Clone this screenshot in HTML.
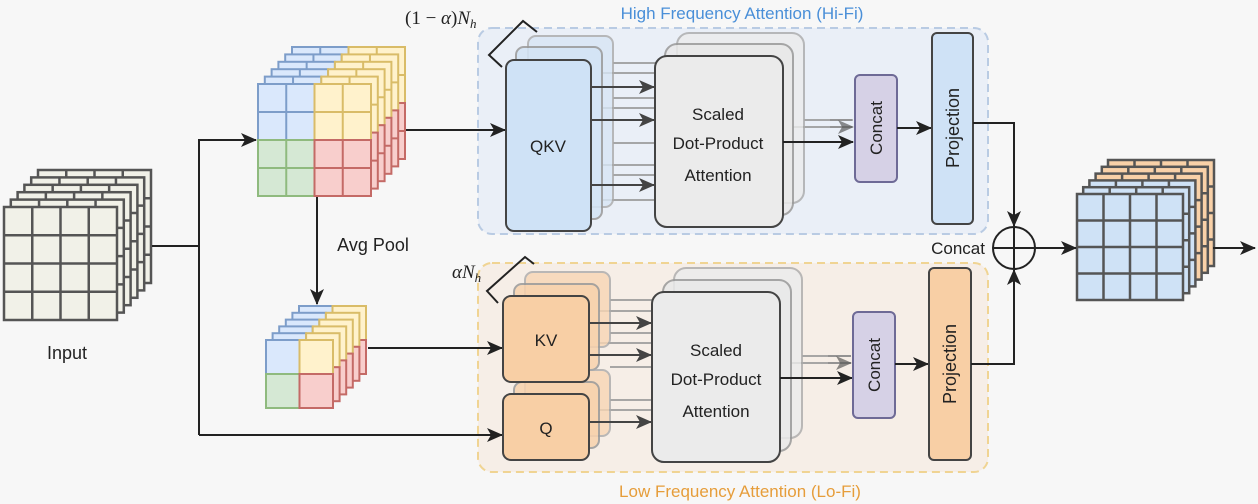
<!DOCTYPE html>
<html><head><meta charset="utf-8"><style>
html,body{margin:0;padding:0;background:#f7f7f7;}
svg{display:block;font-family:"Liberation Sans",sans-serif;}
</style></head><body>
<svg width="1258" height="504" viewBox="0 0 1258 504" xmlns="http://www.w3.org/2000/svg">
<defs>
<marker id="ah" viewBox="0 0 16 14" refX="15" refY="7" markerWidth="16" markerHeight="14" orient="auto" markerUnits="userSpaceOnUse">
<path d="M0,0 L16,7 L0,14 L4,7 Z" fill="#222"/></marker>
<marker id="ahg" viewBox="0 0 16 14" refX="15" refY="7" markerWidth="16" markerHeight="14" orient="auto" markerUnits="userSpaceOnUse">
<path d="M0,0 L16,7 L0,14 L4,7 Z" fill="#444"/></marker>
<g id="g4"><rect x="0" y="0" width="113" height="113"/><path d="M28.25 0V113M56.5 0V113M84.75 0V113M0 28.25H113M0 56.5H113M0 84.75H113" fill="none"/></g>
<g id="go"><rect x="0" y="0" width="106" height="106"/><path d="M26.5 0V106M53 0V106M79.5 0V106M0 26.5H106M0 53H106M0 79.5H106" fill="none"/></g>
<g id="ap" stroke-width="2">
<g fill="#dae8fc" stroke="#7d9dc9"><rect width="56.5" height="56" /><path d="M28.25 0V56M0 28H56.5"/></g>
<g fill="#fff2cc" stroke="#d9bc68"><rect x="56.5" width="56.5" height="56"/><path d="M84.75 0V56M56.5 28H113"/></g>
<g fill="#d5e8d4" stroke="#8fba7e"><rect y="56" width="56.5" height="56"/><path d="M28.25 56V112M0 84H56.5"/></g>
<g fill="#f8cecc" stroke="#c46a66"><rect x="56.5" y="56" width="56.5" height="56"/><path d="M84.75 56V112M56.5 84H113"/></g>
</g>
<g id="sp" stroke-width="2">
<rect width="33.5" height="34" fill="#dae8fc" stroke="#7d9dc9"/>
<rect x="33.5" width="33.5" height="34" fill="#fff2cc" stroke="#d9bc68"/>
<rect y="34" width="33.5" height="34" fill="#d5e8d4" stroke="#8fba7e"/>
<rect x="33.5" y="34" width="33.5" height="34" fill="#f8cecc" stroke="#c46a66"/>
</g>
</defs>

<rect x="478" y="28" width="510" height="206" rx="14" fill="#eaeff7" stroke="#b9cbe3" stroke-width="2" stroke-dasharray="8,5"/>
<rect x="478" y="263" width="510" height="209" rx="14" fill="#f6eee7" stroke="#f0d493" stroke-width="2" stroke-dasharray="8,5"/>
<text x="742" y="19" font-size="17" fill="#4a8fd8" text-anchor="middle">High Frequency Attention (Hi-Fi)</text>
<text x="740" y="497" font-size="17" fill="#e69d3a" text-anchor="middle">Low Frequency Attention (Lo-Fi)</text>

<g fill="#f1f1e8" stroke="#555" stroke-width="2.5">
<use href="#g4" x="38" y="170"/><use href="#g4" x="31.2" y="177.4"/><use href="#g4" x="24.4" y="184.8"/><use href="#g4" x="17.6" y="192.2"/><use href="#g4" x="10.8" y="199.6"/><use href="#g4" x="4" y="207"/>
</g>
<text x="67" y="359" font-size="18" fill="#222" text-anchor="middle">Input</text>

<use href="#ap" x="292" y="47"/><use href="#ap" x="285.2" y="54.4"/><use href="#ap" x="278.4" y="61.8"/><use href="#ap" x="271.6" y="69.2"/><use href="#ap" x="264.8" y="76.6"/><use href="#ap" x="258" y="84"/>

<use href="#sp" x="299" y="306"/><use href="#sp" x="292.4" y="312.8"/><use href="#sp" x="285.8" y="319.6"/><use href="#sp" x="279.2" y="326.4"/><use href="#sp" x="272.6" y="333.2"/><use href="#sp" x="266" y="340"/>

<g stroke="#555" stroke-width="2.5">
<use href="#go" x="1108" y="160" fill="#f9d1a8"/><use href="#go" x="1101.8" y="166.8" fill="#f9d1a8"/><use href="#go" x="1095.6" y="173.6" fill="#f9d1a8"/><use href="#go" x="1089.4" y="180.4" fill="#cfe2f6"/><use href="#go" x="1083.2" y="187.2" fill="#cfe2f6"/><use href="#go" x="1077" y="194" fill="#cfe2f6"/>
</g>

<g stroke="#222" stroke-width="2" fill="none">
<path d="M152 246H199"/>
<path d="M199 435V140H256" marker-end="url(#ah)"/>
<path d="M199 435H502" marker-end="url(#ah)"/>
<path d="M406 130H505" marker-end="url(#ah)"/>
<path d="M317 197V304" marker-end="url(#ah)"/>
<path d="M368 348H502" marker-end="url(#ah)"/>
</g>
<text x="373" y="251" font-size="18" fill="#222" text-anchor="middle">Avg Pool</text>

<text x="405" y="24" font-family="Liberation Serif,serif" font-size="19" fill="#222">(1 − <tspan font-style="italic">α</tspan>)<tspan font-style="italic">N</tspan><tspan font-style="italic" font-size="13" dy="4">h</tspan></text>
<path d="M502 67L489 55L523 21L537 32" stroke="#222" stroke-width="2" fill="none"/>
<text x="452" y="278" font-family="Liberation Serif,serif" font-size="19" fill="#222"><tspan font-style="italic">αN</tspan><tspan font-style="italic" font-size="13" dy="4">h</tspan></text>
<path d="M498 303L487 291L525 257L534 264" stroke="#222" stroke-width="2" fill="none"/>

<g stroke="#999" stroke-width="2" fill="none" opacity="0.85">
<path d="M613 63H665M613 98H665M613 175H665M603 73H665M603 108H665M603 165H665M603 200H665M613 143H665"/>
<path d="M804 120H852M793 127H852"/>
</g>
<path d="M830 120H853M830 127H853" stroke="#888" stroke-width="2" marker-end="url(#ahg)" opacity="0.6"/>
<rect x="528" y="36" width="85" height="171" rx="8" fill="#d8e6f5" stroke="#aaa" stroke-width="2" opacity="0.8"/>
<rect x="516" y="47" width="86" height="172" rx="8" fill="#d3e4f5" stroke="#999" stroke-width="2" opacity="0.85"/>
<rect x="506" y="60" width="85" height="171" rx="8" fill="#cfe2f6" stroke="#444" stroke-width="2"/>
<text x="548" y="152" font-size="17" fill="#222" text-anchor="middle">QKV</text>
<g stroke="#444" stroke-width="2" fill="none">
<path d="M591 87H654" marker-end="url(#ahg)"/><path d="M591 120H654" marker-end="url(#ahg)"/><path d="M591 185H654" marker-end="url(#ahg)"/>
</g>
<rect x="677" y="33" width="127" height="170" rx="12" fill="#ececec" stroke="#aaa" stroke-width="2" opacity="0.8"/>
<rect x="665" y="44" width="128" height="171" rx="12" fill="#e9e9e9" stroke="#999" stroke-width="2" opacity="0.85"/>
<rect x="655" y="56" width="128" height="171" rx="12" fill="#ebebeb" stroke="#444" stroke-width="2"/>
<text font-size="17" fill="#222" text-anchor="middle"><tspan x="718" y="120">Scaled</tspan><tspan x="718" y="149">Dot-Product</tspan><tspan x="718" y="181">Attention</tspan></text>
<path d="M783 142H853" stroke="#222" stroke-width="2" marker-end="url(#ah)"/>
<rect x="855" y="75" width="42" height="107" rx="5" fill="#d6d1e6" stroke="#6e6a96" stroke-width="2"/>
<text transform="translate(882 128) rotate(-90)" font-size="17" fill="#222" text-anchor="middle">Concat</text>
<path d="M897 128H931" stroke="#222" stroke-width="2" marker-end="url(#ah)"/>
<rect x="932" y="33" width="41" height="191" rx="5" fill="#cfe2f6" stroke="#444" stroke-width="2"/>
<text transform="translate(959 128) rotate(-90)" font-size="18" fill="#222" text-anchor="middle">Projection</text>

<g stroke="#999" stroke-width="2" fill="none" opacity="0.85">
<path d="M610 300H662M599 311H662M610 333H662M599 343H662M610 400H662M599 410H662M610 367H662"/>
<path d="M802 356H851M791 363H851"/>
</g>
<path d="M828 356H851M828 363H851" stroke="#888" stroke-width="2" marker-end="url(#ahg)" opacity="0.6"/>
<rect x="525" y="272" width="85" height="75" rx="8" fill="#f8d6b4" stroke="#aaa" stroke-width="2" opacity="0.8"/>
<rect x="514" y="284" width="85" height="86" rx="8" fill="#f8d2ad" stroke="#999" stroke-width="2" opacity="0.85"/>
<rect x="525" y="370" width="85" height="66" rx="8" fill="#f8d6b4" stroke="#aaa" stroke-width="2" opacity="0.8"/>
<rect x="514" y="382" width="85" height="66" rx="8" fill="#f8d2ad" stroke="#999" stroke-width="2" opacity="0.85"/>
<rect x="503" y="296" width="86" height="86" rx="8" fill="#f8cfa5" stroke="#444" stroke-width="2"/>
<rect x="503" y="394" width="86" height="66" rx="8" fill="#f8cfa5" stroke="#444" stroke-width="2"/>
<text x="546" y="346" font-size="17" fill="#222" text-anchor="middle">KV</text>
<text x="546" y="434" font-size="17" fill="#222" text-anchor="middle">Q</text>
<g stroke="#444" stroke-width="2" fill="none">
<path d="M589 323H651" marker-end="url(#ahg)"/><path d="M589 355H651" marker-end="url(#ahg)"/><path d="M589 422H651" marker-end="url(#ahg)"/>
</g>
<rect x="674" y="268" width="128" height="170" rx="12" fill="#ececec" stroke="#aaa" stroke-width="2" opacity="0.8"/>
<rect x="663" y="280" width="128" height="171" rx="12" fill="#e9e9e9" stroke="#999" stroke-width="2" opacity="0.85"/>
<rect x="652" y="292" width="128" height="170" rx="12" fill="#ebebeb" stroke="#444" stroke-width="2"/>
<text font-size="17" fill="#222" text-anchor="middle"><tspan x="716" y="356">Scaled</tspan><tspan x="716" y="385">Dot-Product</tspan><tspan x="716" y="417">Attention</tspan></text>
<path d="M780 378H852" stroke="#222" stroke-width="2" marker-end="url(#ah)"/>
<rect x="853" y="312" width="42" height="106" rx="5" fill="#d6d1e6" stroke="#6e6a96" stroke-width="2"/>
<text transform="translate(880 365) rotate(-90)" font-size="17" fill="#222" text-anchor="middle">Concat</text>
<path d="M895 364H928" stroke="#222" stroke-width="2" marker-end="url(#ah)"/>
<rect x="929" y="268" width="42" height="192" rx="5" fill="#f8cfa5" stroke="#444" stroke-width="2"/>
<text transform="translate(956 364) rotate(-90)" font-size="18" fill="#222" text-anchor="middle">Projection</text>

<g stroke="#222" stroke-width="2" fill="none">
<path d="M973 123H1014V226" marker-end="url(#ah)"/>
<path d="M971 364H1014V270" marker-end="url(#ah)"/>
<circle cx="1014" cy="248" r="21"/>
<path d="M993 248H1035M1014 227V269"/>
<path d="M1035 248H1076" marker-end="url(#ah)"/>
<path d="M1213 248H1255" marker-end="url(#ah)"/>
</g>
<text x="985" y="254" font-size="17" fill="#222" text-anchor="end">Concat</text>
</svg>
</body></html>
